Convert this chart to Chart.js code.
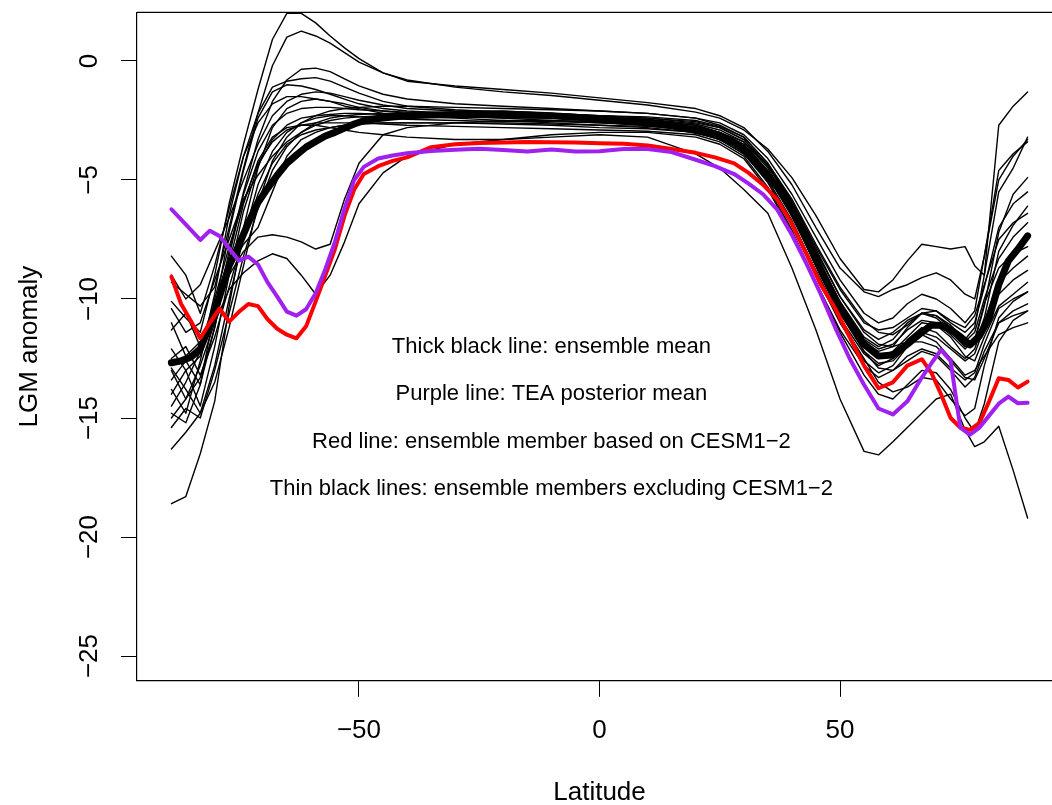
<!DOCTYPE html>
<html lang="en">
<head>
<meta charset="UTF-8">
<title>LGM anomaly by latitude</title>
<script src="https://cdn.jsdelivr.net/npm/chart.js"></script>
<style>
  html, body { margin: 0; padding: 0; background: #fff; overflow: hidden; }
</style>
</head>
<body>
<canvas id="lgmChart" width="1062" height="805"></canvas>
<script>
// latitude grid for the mean, CESM member and TEA posterior
const latFine = [-89, -87, -85, -83, -81, -79, -77, -75, -73, -71, -69, -67, -65, -63, -61, -59, -57, -55, -53, -51,
  -49, -46, -43, -40, -35, -30, -25, -20, -15, -10, -5, 0, 5, 10, 15, 20, 24, 28, 31, 34,
  37, 40, 43, 46, 49, 52, 55, 58, 61, 64, 67, 69, 71, 73, 75, 77, 79, 81, 83, 85, 87, 89];

const ensembleMean = [-12.68, -12.6, -12.45, -12.1, -11.1, -9.9, -8.6, -7.75, -6.8, -5.95, -5.35, -4.8, -4.3, -3.95, -3.62, -3.38, -3.15, -3.0, -2.82, -2.65,
  -2.51, -2.42, -2.36, -2.3, -2.27, -2.25, -2.25, -2.24, -2.26, -2.3, -2.36, -2.45, -2.53, -2.6, -2.72, -2.92, -3.1, -3.45, -3.85, -4.6,
  -5.3, -6.3, -7.45, -8.8, -10.0, -11.0, -11.9, -12.4, -12.35, -11.9, -11.4, -11.1, -11.1, -11.3, -11.58, -11.93, -11.55, -10.8, -9.4, -8.4, -7.9, -7.35];

const cesmMember = [-9.06, -10.2, -10.9, -11.65, -11.0, -10.4, -10.95, -10.55, -10.21, -10.3, -10.85, -11.25, -11.5, -11.65, -11.15, -10.1, -9.0, -7.9, -6.5, -5.4,
  -4.75, -4.42, -4.2, -4.05, -3.62, -3.5, -3.45, -3.43, -3.4, -3.41, -3.43, -3.46, -3.48, -3.55, -3.7, -3.86, -4.05, -4.3, -4.7, -5.2,
  -5.84, -6.85, -8.1, -9.4, -10.4, -11.6, -12.8, -13.75, -13.5, -12.8, -12.53, -13.1, -14.0, -15.0, -15.4, -15.5, -15.2, -14.3, -13.33, -13.4, -13.72, -13.47];

const teaPosterior = [-6.23, -6.66, -7.09, -7.52, -7.13, -7.35, -7.87, -8.39, -8.22, -8.55, -9.3, -9.9, -10.53, -10.7, -10.43, -9.76, -8.75, -7.6, -6.2, -5.0,
  -4.45, -4.1, -3.97, -3.88, -3.78, -3.73, -3.69, -3.74, -3.8, -3.72, -3.8, -3.79, -3.7, -3.7, -3.83, -4.15, -4.42, -4.75, -5.15, -5.6,
  -6.26, -7.3, -8.5, -9.8, -11.2, -12.5, -13.6, -14.6, -14.85, -14.3, -13.3, -12.7, -12.14, -12.6, -15.4, -15.7, -15.4, -14.9, -14.4, -14.1, -14.38, -14.36];

// latitude grid for the other ensemble members
const latThin = [-89, -86, -83, -80, -77, -74, -71, -68, -65, -62, -59, -56, -53, -50, -45, -40, -30, -20, -10, 0,
  10, 20, 25, 30, 35, 40, 45, 50, 55, 58, 61, 64, 67, 70, 73, 76, 78, 80, 83, 86, 89];

const member01 = [-10.1, -10.8, -11.4, -9.0, -6.0, -3.5, -1.2, 0.9, 2.0, 2.0, 1.6, 1.05, 0.55, 0.1, -0.5, -0.85, -1.05, -1.2, -1.35, -1.55, -1.75, -2.0, -2.3, -2.8, -3.8, -5.2, -7.0, -8.7, -9.7, -9.9, -9.6, -9.4, -9.1, -8.9, -9.2, -9.8, -10.0, -8.2, -5.0, -4.0, -3.3];
const member02 = [-9.3, -9.8, -10.3, -9.5, -7.0, -4.5, -2.2, -0.2, 1.0, 1.25, 1.05, 0.75, 0.35, -0.05, -0.5, -0.8, -1.1, -1.3, -1.45, -1.65, -1.85, -2.15, -2.4, -2.9, -3.7, -4.9, -6.5, -8.3, -9.6, -9.7, -9.2, -8.4, -7.7, -7.8, -7.9, -7.8, -8.6, -9.0, -2.7, -1.9, -1.3];
const member03 = [-11.3, -10.6, -12.0, -10.8, -8.0, -5.5, -3.3, -1.7, -0.8, -0.35, -0.3, -0.45, -0.75, -1.05, -1.4, -1.6, -1.8, -1.9, -2.0, -2.1, -2.2, -2.4, -2.6, -3.1, -4.1, -5.6, -7.4, -9.2, -10.6, -11.0, -10.8, -10.2, -9.8, -10.0, -10.4, -11.0, -10.5, -8.2, -4.6, -3.9, -3.4];
const member04 = [-12.1, -13.0, -12.4, -9.8, -6.5, -4.0, -2.2, -1.1, -0.85, -0.75, -0.7, -0.85, -1.1, -1.35, -1.7, -1.9, -2.05, -2.15, -2.2, -2.3, -2.4, -2.6, -2.8, -3.3, -4.4, -6.0, -8.0, -9.9, -11.3, -11.7, -11.4, -10.9, -10.6, -10.7, -11.1, -11.7, -11.2, -9.0, -5.5, -4.5, -3.2];
const member05 = [-13.4, -12.6, -13.6, -10.5, -7.2, -4.6, -2.4, -1.3, -1.0, -1.05, -1.2, -1.4, -1.6, -1.8, -2.0, -2.1, -2.2, -2.2, -2.3, -2.4, -2.5, -2.7, -3.0, -3.5, -4.6, -6.3, -8.3, -10.2, -11.7, -12.1, -11.9, -11.3, -10.9, -11.0, -11.4, -12.0, -11.9, -10.8, -8.0, -6.9, -6.1];
const member06 = [-14.5, -13.5, -12.2, -10.5, -9.0, -8.0, -7.4, -7.3, -7.4, -7.6, -7.9, -7.7, -5.8, -4.3, -3.1, -2.8, -2.6, -2.5, -2.5, -2.6, -2.7, -2.9, -3.1, -3.6, -4.8, -6.5, -8.6, -10.6, -12.0, -12.5, -12.3, -11.8, -11.4, -11.6, -12.1, -12.6, -12.3, -11.2, -9.8, -9.2, -8.8];
const member07 = [-15.0, -14.2, -12.8, -11.0, -9.6, -8.9, -8.4, -8.1, -8.3, -9.0, -9.8, -9.0, -7.6, -6.0, -4.7, -4.0, -3.5, -3.3, -3.1, -3.0, -3.0, -3.2, -3.5, -4.1, -5.4, -7.2, -9.3, -11.3, -12.8, -13.3, -13.0, -12.4, -12.1, -12.3, -12.9, -13.4, -13.1, -11.9, -10.4, -10.0, -9.7];
const member08 = [-18.6, -18.3, -16.5, -14.3, -10.3, -7.0, -4.5, -2.8, -2.0, -1.7, -1.6, -1.7, -1.8, -1.95, -2.1, -2.2, -2.3, -2.4, -2.5, -2.55, -2.6, -2.75, -3.0, -3.4, -4.4, -6.0, -8.1, -10.1, -11.6, -12.0, -11.7, -11.0, -10.6, -10.8, -11.3, -12.0, -11.8, -10.3, -7.2, -5.6, -4.9];
const member09 = [-13.0, -14.2, -13.3, -11.2, -8.5, -6.0, -4.2, -3.2, -2.8, -2.7, -2.7, -2.8, -2.9, -3.0, -3.1, -3.2, -3.3, -3.3, -3.2, -3.1, -3.2, -3.9, -4.5, -5.4, -6.4, -8.7, -11.3, -14.2, -16.4, -16.55, -16.0, -15.4, -14.8, -14.2, -14.0, -15.5, -16.2, -16.0, -15.35, -17.2, -19.2];
const member10 = [-8.2, -9.0, -10.6, -8.6, -6.2, -4.0, -2.6, -1.8, -1.5, -1.5, -1.6, -1.7, -1.9, -2.0, -2.2, -2.3, -2.35, -2.4, -2.4, -2.5, -2.6, -2.8, -3.1, -3.6, -4.7, -6.4, -8.4, -10.3, -11.8, -12.2, -12.0, -11.2, -10.6, -10.7, -11.2, -11.8, -11.4, -10.0, -8.3, -7.4, -6.8];
const member11 = [-14.0, -13.0, -14.5, -12.0, -9.0, -6.3, -4.4, -3.3, -2.7, -2.4, -2.3, -2.25, -2.2, -2.2, -2.25, -2.3, -2.4, -2.5, -2.6, -2.7, -2.8, -3.0, -3.3, -3.9, -5.0, -6.7, -8.8, -10.8, -12.3, -12.8, -12.5, -11.7, -11.2, -11.4, -12.0, -12.5, -12.1, -10.9, -9.3, -8.7, -8.2];
const member12 = [-10.4, -11.4, -11.0, -9.2, -7.5, -5.8, -4.8, -4.0, -3.4, -3.0, -2.7, -2.5, -2.4, -2.35, -2.3, -2.3, -2.3, -2.3, -2.35, -2.4, -2.5, -2.7, -3.0, -3.5, -4.7, -6.4, -8.5, -10.5, -12.0, -12.4, -12.2, -11.6, -11.0, -11.1, -11.6, -12.4, -12.6, -11.6, -10.3, -9.8, -9.3];
const member13 = [-15.4, -14.6, -15.0, -13.0, -10.6, -8.2, -6.2, -4.6, -3.6, -3.0, -2.6, -2.4, -2.3, -2.25, -2.2, -2.2, -2.2, -2.25, -2.3, -2.35, -2.45, -2.65, -2.9, -3.4, -4.5, -6.2, -8.3, -10.4, -12.2, -12.9, -13.0, -12.6, -12.2, -12.4, -13.0, -13.7, -13.3, -12.2, -11.0, -10.7, -10.5];
const member14 = [-12.5, -12.0, -13.2, -11.6, -9.5, -7.4, -5.6, -4.3, -3.5, -3.1, -2.9, -2.8, -2.7, -2.65, -2.6, -2.6, -2.6, -2.6, -2.65, -2.7, -2.75, -2.9, -3.2, -3.8, -5.1, -6.9, -9.0, -11.0, -12.6, -13.1, -12.8, -12.0, -11.5, -11.8, -12.5, -13.2, -13.0, -12.4, -11.5, -11.2, -11.0];
const member15 = [-9.0, -10.0, -9.4, -8.0, -6.6, -5.0, -3.5, -2.3, -1.7, -1.4, -1.3, -1.35, -1.5, -1.65, -1.85, -2.0, -2.1, -2.1, -2.2, -2.3, -2.4, -2.55, -2.8, -3.3, -4.4, -5.9, -7.8, -9.6, -11.0, -11.3, -11.2, -10.8, -10.4, -10.5, -11.0, -11.4, -11.0, -9.5, -7.0, -6.0, -5.5];
const member16 = [-16.3, -15.6, -14.8, -12.8, -10.0, -7.4, -5.2, -3.8, -3.0, -2.6, -2.4, -2.3, -2.3, -2.35, -2.4, -2.45, -2.5, -2.55, -2.55, -2.6, -2.65, -2.8, -3.05, -3.6, -4.8, -6.5, -8.6, -10.6, -12.2, -12.7, -12.6, -12.0, -11.3, -11.0, -11.5, -12.1, -11.7, -10.2, -8.7, -8.1, -7.8];
const member17 = [-11.0, -12.4, -11.8, -10.4, -8.8, -7.7, -7.0, -5.5, -4.0, -3.3, -3.0, -2.8, -2.7, -2.65, -2.6, -2.6, -2.6, -2.65, -2.7, -2.8, -2.85, -3.0, -3.3, -3.9, -5.1, -6.8, -8.9, -10.9, -12.5, -13.5, -13.9, -13.7, -13.3, -13.4, -14.2, -14.9, -14.6, -12.8, -10.8, -10.1, -9.7];
const member18 = [-14.8, -15.2, -13.6, -11.2, -8.2, -5.6, -3.8, -2.7, -2.2, -2.0, -1.95, -1.95, -2.0, -2.05, -2.1, -2.15, -2.2, -2.2, -2.25, -2.3, -2.35, -2.5, -2.75, -3.2, -4.3, -5.8, -7.7, -9.5, -10.9, -11.4, -11.5, -11.1, -10.6, -10.5, -10.9, -11.2, -10.7, -9.4, -7.5, -6.8, -6.4];
const member19 = [-12.9, -13.8, -14.8, -13.5, -11.2, -8.6, -6.0, -4.2, -3.2, -2.6, -2.3, -2.1, -2.0, -1.95, -1.9, -1.9, -1.95, -2.0, -2.05, -2.1, -2.2, -2.4, -2.7, -3.2, -4.3, -5.9, -7.9, -9.9, -11.4, -11.9, -12.0, -11.8, -11.8, -12.0, -12.6, -13.3, -13.4, -12.5, -11.0, -10.5, -10.2];
const member20 = [-13.8, -14.8, -12.6, -10.0, -7.8, -5.9, -4.3, -3.4, -2.9, -2.7, -2.6, -2.6, -2.6, -2.6, -2.65, -2.7, -2.75, -2.8, -2.85, -2.9, -2.95, -3.1, -3.4, -4.0, -5.3, -7.1, -9.3, -11.4, -13.2, -14.0, -14.2, -13.6, -13.0, -13.1, -13.8, -15.0, -15.6, -14.4, -11.8, -10.9, -10.5];

const otherMembers = [member01, member02, member03, member04, member05, member06, member07, member08, member09, member10,
  member11, member12, member13, member14, member15, member16, member17, member18, member19, member20];

// text written inside the plot, at latitude noteX and the given anomalies
const noteLines = [
  'Thick black line: ensemble mean',
  'Purple line: TEA posterior mean',
  'Red line: ensemble member based on CESM1\u22122',
  'Thin black lines: ensemble members excluding CESM1\u22122'
];
const noteX = -10;
const noteY = [-12, -14, -16, -18];

const xTicks = [-50, 0, 50];
const yTicks = [0, -5, -10, -15, -20, -25];

const FONT = '"Liberation Sans", Arial, Helvetica, sans-serif';

function toPoints(xs, ys) {
  return xs.map((x, i) => ({ x: x, y: ys[i] }));
}

function rMinus(v) {
  return String(v).replace('-', '\u2212');
}

const datasets = otherMembers.map((m, i) => ({
  label: 'member ' + (i + 1),
  data: toPoints(latThin, m),
  borderColor: '#000000',
  borderWidth: 1.4,
  order: 10 + i
}));
datasets.push({ label: 'ensemble mean', data: toPoints(latFine, ensembleMean), borderColor: '#000000', borderWidth: 7, order: 2 });
datasets.push({ label: 'CESM1-2', data: toPoints(latFine, cesmMember), borderColor: '#ff0000', borderWidth: 4, order: 1 });
datasets.push({ label: 'TEA posterior mean', data: toPoints(latFine, teaPosterior), borderColor: '#a020f0', borderWidth: 4, order: 0 });

// top side of the box and the explanatory text
const frameAndNotes = {
  id: 'frameAndNotes',
  afterDatasetsDraw(chart) {
    const { ctx, chartArea, scales } = chart;
    ctx.save();
    ctx.strokeStyle = '#000';
    ctx.lineWidth = 1.2;
    ctx.beginPath();
    ctx.moveTo(chartArea.left, chartArea.top);
    ctx.lineTo(chartArea.right, chartArea.top);
    ctx.stroke();
    ctx.fillStyle = '#000';
    ctx.font = '22px ' + FONT;
    ctx.textAlign = 'center';
    ctx.textBaseline = 'middle';
    noteLines.forEach((t, i) => {
      ctx.fillText(t, scales.x.getPixelForValue(noteX), scales.y.getPixelForValue(noteY[i]));
    });
    ctx.restore();
  }
};

// fixed axis sizes so the plot box sits where the R device put it
function noPadding(scale) {
  scale.paddingTop = 0;
  scale.paddingBottom = 0;
  scale.paddingLeft = 0;
  scale.paddingRight = 0;
}

Chart.defaults.color = '#000';
Chart.defaults.font.family = FONT;

new Chart(document.getElementById('lgmChart').getContext('2d'), {
  type: 'line',
  data: { datasets: datasets },
  options: {
    responsive: false,
    animation: false,
    devicePixelRatio: 1,
    layout: { padding: { top: 12.4, right: 0, bottom: 0, left: 0 } },
    elements: {
      point: { radius: 0 },
      line: { tension: 0, borderCapStyle: 'round', borderJoinStyle: 'round', fill: false }
    },
    plugins: { legend: { display: false }, tooltip: { enabled: false } },
    scales: {
      x: {
        type: 'linear',
        min: -96.15,
        max: 96.15,
        afterFit(scale) { scale.height = 124.2; noPadding(scale); },
        afterBuildTicks(scale) { scale.ticks = xTicks.map(v => ({ value: v })); },
        ticks: { font: { size: 26 }, padding: 18.6, callback: v => rMinus(v) },
        grid: { drawOnChartArea: false, drawTicks: true, tickLength: 16, color: '#000', lineWidth: 1 },
        border: { display: true, color: '#000', width: 1.2 },
        title: { display: true, text: 'Latitude', font: { size: 26 }, padding: { top: 0, bottom: -3 } }
      },
      y: {
        type: 'linear',
        min: -26.04,
        max: 2.04,
        afterFit(scale) { scale.width = 137; noPadding(scale); },
        afterBuildTicks(scale) { scale.ticks = yTicks.map(v => ({ value: v })); },
        ticks: { font: { size: 26 }, padding: 9, minRotation: 90, maxRotation: 90, crossAlign: 'center', callback: v => rMinus(v) },
        grid: { drawOnChartArea: false, drawTicks: true, tickLength: 16, color: '#000', lineWidth: 1 },
        border: { display: true, color: '#000', width: 1.2 },
        title: { display: true, text: 'LGM anomaly', font: { size: 26 }, padding: { top: 14.4, bottom: 0 } }
      }
    }
  },
  plugins: [frameAndNotes]
});
</script>
</body>
</html>
